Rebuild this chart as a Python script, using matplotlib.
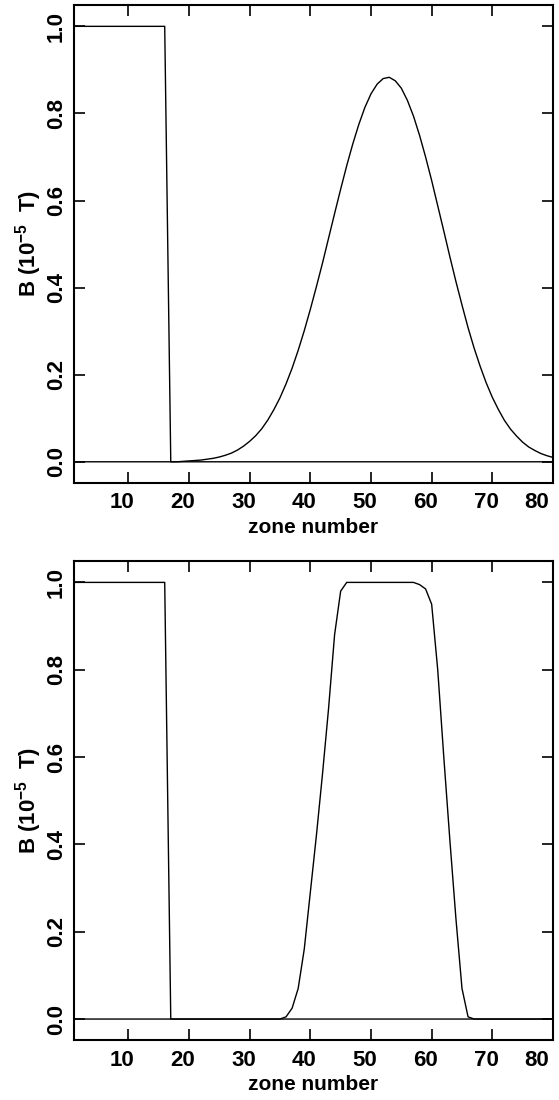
import matplotlib
matplotlib.use("Agg")
import matplotlib.pyplot as plt
from matplotlib.transforms import ScaledTranslation

plt.rcParams["font.family"] = ["Liberation Sans", "DejaVu Sans"]
plt.rcParams["font.weight"] = "bold"
plt.rcParams["mathtext.fontset"] = "custom"
plt.rcParams["mathtext.rm"] = "Liberation Sans:bold"
plt.rcParams["mathtext.bf"] = "Liberation Sans:bold"
plt.rcParams["mathtext.it"] = "Liberation Sans:bold"
plt.rcParams["mathtext.default"] = "bf"

zones = list(range(1, 81))

step_field = [
    1.0, 1.0, 1.0, 1.0, 1.0, 1.0, 1.0, 1.0, 1.0, 1.0,
    1.0, 1.0, 1.0, 1.0, 1.0, 1.0, 0.0, 0.0, 0.0, 0.0,
    0.0, 0.0, 0.0, 0.0, 0.0, 0.0, 0.0, 0.0, 0.0, 0.0,
    0.0, 0.0, 0.0, 0.0, 0.0, 0.0, 0.0, 0.0, 0.0, 0.0,
    0.0, 0.0, 0.0, 0.0, 0.0, 0.0, 0.0, 0.0, 0.0, 0.0,
    0.0, 0.0, 0.0, 0.0, 0.0, 0.0, 0.0, 0.0, 0.0, 0.0,
    0.0, 0.0, 0.0, 0.0, 0.0, 0.0, 0.0, 0.0, 0.0, 0.0,
    0.0, 0.0, 0.0, 0.0, 0.0, 0.0, 0.0, 0.0, 0.0, 0.0,
]

pulse_top = [
    0.0, 0.0, 0.0, 0.0, 0.0, 0.0, 0.0, 0.0, 0.0, 0.0,
    0.0, 0.0, 0.0, 0.0, 0.0, 0.0, 0.0, 0.0, 0.001, 0.002,
    0.003, 0.004, 0.006, 0.008, 0.011, 0.015, 0.020, 0.027, 0.036, 0.047,
    0.060, 0.076, 0.096, 0.120, 0.147, 0.179, 0.215, 0.256, 0.301, 0.350,
    0.402, 0.456, 0.513, 0.570, 0.626, 0.680, 0.730, 0.775, 0.814, 0.845,
    0.867, 0.880, 0.883, 0.875, 0.858, 0.830, 0.794, 0.750, 0.700, 0.646,
    0.588, 0.530, 0.471, 0.414, 0.360, 0.308, 0.261, 0.219, 0.181, 0.148,
    0.120, 0.095, 0.075, 0.059, 0.045, 0.034, 0.026, 0.019, 0.014, 0.010,
]

pulse_bottom = [
    0.0, 0.0, 0.0, 0.0, 0.0, 0.0, 0.0, 0.0, 0.0, 0.0,
    0.0, 0.0, 0.0, 0.0, 0.0, 0.0, 0.0, 0.0, 0.0, 0.0,
    0.0, 0.0, 0.0, 0.0, 0.0, 0.0, 0.0, 0.0, 0.0, 0.0,
    0.0, 0.0, 0.0, 0.0, 0.0, 0.005, 0.025, 0.07, 0.16, 0.29,
    0.42, 0.56, 0.71, 0.88, 0.98, 1.0, 1.0, 1.0, 1.0, 1.0,
    1.0, 1.0, 1.0, 1.0, 1.0, 1.0, 1.0, 0.995, 0.985, 0.95,
    0.80, 0.60, 0.41, 0.23, 0.07, 0.005, 0.0, 0.0, 0.0, 0.0,
    0.0, 0.0, 0.0, 0.0, 0.0, 0.0, 0.0, 0.0, 0.0, 0.0,
]

x_ticks = [10, 20, 30, 40, 50, 60, 70, 80]
y_ticks = [0.0, 0.2, 0.4, 0.6, 0.8, 1.0]
y_tick_labels = ["0.0", "0.2", "0.4", "0.6", "0.8", "1.0"]
x_label = "zone number"
y_label = r"B (10$^{-5}$  T)"

W, H = 559, 1100
fig = plt.figure(figsize=(W / 100, H / 100), dpi=100)

panels = [
    (pulse_top, (73.7, 5.0, 553.0, 482.7)),
    (pulse_bottom, (73.7, 561.0, 553.0, 1040.0)),
]

for pulse, (l, t, r, b) in panels:
    ax = fig.add_axes([l / W, 1 - b / H, (r - l) / W, (b - t) / H])
    ax.plot(zones, step_field, color="black", lw=1.0)
    ax.plot(zones, pulse, color="black", lw=1.0)
    ax.set_xlim(1, 79.8)
    ax.set_ylim(-0.048, 1.049)
    ax.set_xticks(x_ticks)
    ax.set_yticks(y_ticks)
    ax.set_yticklabels(y_tick_labels)
    for s in ax.spines.values():
        s.set_linewidth(1.5)
    ax.tick_params(direction="in", length=8, width=1.2, top=True, right=True,
                   labelsize=16)
    ax.tick_params(axis="x", pad=7)
    ax.tick_params(axis="y", pad=5, labelrotation=90)
    for lab in ax.get_yticklabels():
        lab.set_va("center")
    xl = ax.get_xticklabels()
    for i, lab in enumerate(xl):
        dx = -16 if i == len(xl) - 1 else -6
        lab.set_transform(lab.get_transform() + ScaledTranslation(dx / 100, 0, fig.dpi_scale_trans))
    ax.set_xlabel(x_label, fontsize=15, fontweight="bold", labelpad=3)
    ax.set_ylabel(y_label, fontsize=16, fontweight="bold", labelpad=1)

fig.savefig("out.png", dpi=100)
